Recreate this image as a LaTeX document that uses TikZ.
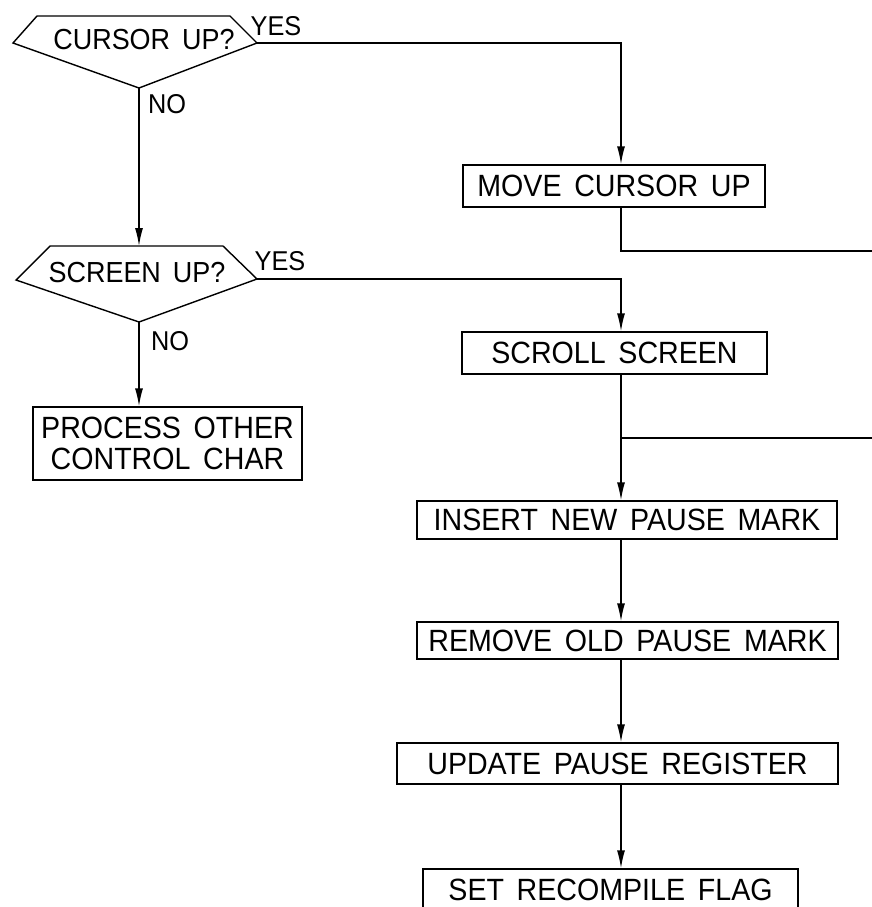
\documentclass[tikz,border=0pt]{standalone}
\usepackage{fontspec}
\setmainfont{Liberation Sans}[WordSpace=1.6, FakeStretch=0.93]
\usetikzlibrary{arrows.meta,positioning}

\tikzset{
  procbox/.style={draw, line width=0.8pt, inner sep=0pt,
    font=\fontsize{17.5}{17.5}\selectfont, align=center},
  asktext/.style={inner sep=0pt, font=\fontsize{16.5}{16.5}\selectfont},
  answer/.style={inner sep=0pt, font=\fontsize{15.5}{15.5}\selectfont},
  flowline/.style={line width=0.8pt},
  flow/.style={flowline, -{Latex[length=3.6mm,width=1.6mm]}},
}

\begin{document}
\begin{tikzpicture}[x=0.02cm, y=-0.02cm, line join=miter]

\clip (0,0) rectangle (872,907);

% decisions
\coordinate (q1l) at (13,43);
\coordinate (q1r) at (257,43);
\coordinate (q1b) at (139,88);
\draw[flowline] (37,16) -- (230,16) -- (q1r) -- (q1b) -- (q1l) -- cycle;
\node[asktext] (q1) at (144,40) {CURSOR UP?};

\coordinate (q2t) at (139,246);
\coordinate (q2l) at (16,280);
\coordinate (q2r) at (257,279);
\coordinate (q2b) at (139,322);
\draw[flowline] (50,246) -- (223,246) -- (q2r) -- (q2b) -- (q2l) -- cycle;
\node[asktext] (q2) at (137,273) {SCREEN UP?};

\node[answer] (yes1) at (276,26) {YES};
\node[answer] (no1) at (167,104) {NO};
\node[answer] (yes2) at (280,261) {YES};
\node[answer] (no2) at (170,341) {NO};

% boxes
\node[procbox, minimum width=6.04cm, minimum height=0.84cm] (move) at (614,186) {MOVE CURSOR UP};
\node[procbox, minimum width=6.10cm, minimum height=0.84cm] (scroll) at (614.5,353) {SCROLL SCREEN};
\node[procbox, minimum width=5.38cm, minimum height=1.46cm] (process) at (167.5,443.5) {PROCESS OTHER\\CONTROL CHAR};
\node[procbox, minimum width=8.40cm, minimum height=0.76cm] (insert) at (627,520) {INSERT NEW PAUSE MARK};
\node[procbox, minimum width=8.42cm, minimum height=0.74cm] (remove) at (627.5,640.5) {REMOVE OLD PAUSE MARK};
\node[procbox, minimum width=8.82cm, minimum height=0.82cm] (update) at (617.5,763.5) {UPDATE PAUSE REGISTER};
\node[procbox, minimum width=7.50cm, minimum height=0.84cm] (recompile) at (610.5,890) {SET RECOMPILE FLAG};

\coordinate (spine) at (621,0);
\coordinate (out1) at (872,251);
\coordinate (in2) at (872,438);

% connectors
\draw[flow] (q1r) -| (move.north -| spine);
\draw[flowline] (move.south -| spine) |- (out1);
\draw[flow] (q1b) -- (q2t);
\draw[flow] (q2r) -| (scroll.north -| spine);
\draw[flow] (q2b) -- (q2b |- process.north);
\draw[flow] (scroll.south -| spine) -- (insert.north -| spine);
\draw[flowline] (in2) -- (in2 -| spine);
\foreach \a/\b in {insert/remove, remove/update, update/recompile} {
    \draw[flow] (\a.south -| spine) -- (\b.north -| spine);
}

\end{tikzpicture}
\end{document}
